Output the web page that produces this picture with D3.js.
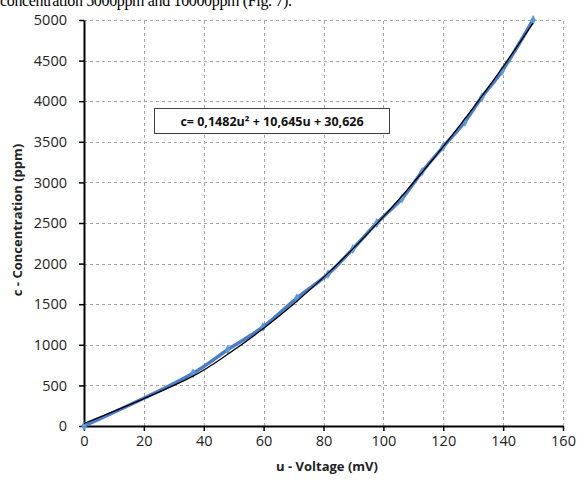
<!DOCTYPE html>
<html>
<head>
<meta charset="utf-8">
<script src="https://cdn.jsdelivr.net/npm/d3@7"></script>
<style>
  body { margin: 0; background: #fff; }
  svg { display: block; }
</style>
</head>
<body>
<div id="chart"></div>
<script>
const voltage = [0, 36.4, 48, 59.8, 71.1, 81.5, 89.8, 97.8, 106.2, 112.9, 119.9, 127.2, 132.9, 139.6, 150];
const concentration = [0, 650, 940, 1220, 1575, 1870, 2180, 2500, 2800, 3130, 3435, 3745, 4050, 4370, 5000];

// polynomial trendline c = a*u^2 + b*u + k, as printed in the chart
const trendCoef = [0.1482, 10.645, 30.626];
const trendLabel = 'c= 0,1482u² + 10,645u + 30,626';

const xTicks = [0, 20, 40, 60, 80, 100, 120, 140, 160];
const yTicks = [0, 500, 1000, 1500, 2000, 2500, 3000, 3500, 4000, 4500, 5000];

const width = 578, height = 482;
const margin = {left: 84, right: 15, top: 20, bottom: 56};

const svg = d3.select('#chart').append('svg')
    .attr('width', width)
    .attr('height', height);

// caption line from the page above, cut off by the crop
svg.append('text')
    .attr('x', 0)
    .attr('y', 6)
    .attr('font-family', 'Liberation Serif, serif')
    .attr('font-size', 16)
    .attr('textLength', 292)
    .attr('fill', '#000')
    .text('concentration 5000ppm and 10000ppm (Fig. 7).');

const x = d3.scaleLinear().domain([0, 160]).range([margin.left, width - margin.right]);
const y = d3.scaleLinear().domain([0, 5000]).range([height - margin.bottom, margin.top]);

// grid
const grid = svg.append('g')
    .attr('stroke', '#a6a6a6')
    .attr('stroke-width', 1)
    .attr('stroke-dasharray', '3,3');

grid.selectAll('.vg')
    .data(xTicks.filter(d => d > 0))
    .enter().append('line')
    .attr('x1', d => Math.round(x(d)) + 0.5)
    .attr('x2', d => Math.round(x(d)) + 0.5)
    .attr('y1', y(0))
    .attr('y2', y(5000));

grid.selectAll('.hg')
    .data(yTicks.filter(d => d > 0))
    .enter().append('line')
    .attr('x1', x(0))
    .attr('x2', x(160))
    .attr('y1', d => Math.round(y(d)) + 0.5)
    .attr('y2', d => Math.round(y(d)) + 0.5);

// axes
const xAxis = svg.append('g')
    .attr('transform', `translate(0,${y(0)})`)
    .call(d3.axisBottom(x).tickValues(xTicks).tickFormat(d3.format('d'))
        .tickSize(5).tickSizeOuter(0).tickPadding(5));

const yAxis = svg.append('g')
    .attr('transform', `translate(${x(0)},0)`)
    .call(d3.axisLeft(y).tickValues(yTicks).tickFormat(d3.format('d'))
        .tickSize(5).tickSizeOuter(0).tickPadding(12));

[xAxis, yAxis].forEach(ax => {
    ax.select('.domain').attr('stroke', '#000').attr('stroke-width', 2);
    ax.selectAll('.tick line').attr('stroke', '#000').attr('stroke-width', 1.5);
    ax.selectAll('.tick text')
        .attr('font-family', 'Open Sans, sans-serif')
        .attr('font-size', 14.5)
        .attr('fill', '#222');
});

// axis titles
svg.append('text')
    .attr('x', 327)
    .attr('y', 471)
    .attr('text-anchor', 'middle')
    .attr('font-family', 'Open Sans, sans-serif')
    .attr('font-weight', 'bold')
    .attr('font-size', 13)
    .attr('fill', '#222')
    .text('u - Voltage (mV)');

svg.append('text')
    .attr('transform', 'translate(22,220) rotate(-90)')
    .attr('text-anchor', 'middle')
    .attr('font-family', 'Open Sans, sans-serif')
    .attr('font-weight', 'bold')
    .attr('font-size', 13)
    .attr('fill', '#222')
    .text('c - Concentration (ppm)');

// data series
const points = voltage.map((u, i) => ({u: u, c: concentration[i]}));

svg.append('path')
    .datum(points)
    .attr('fill', 'none')
    .attr('stroke', '#4a7ccc')
    .attr('stroke-width', 3.5)
    .attr('stroke-linejoin', 'round')
    .attr('d', d3.line().x(d => x(d.u)).y(d => y(d.c)).curve(d3.curveCatmullRom));

svg.append('g').selectAll('path')
    .data(points)
    .enter().append('path')
    .attr('transform', d => `translate(${x(d.u)},${y(d.c)})`)
    .attr('d', d3.symbol().type(d3.symbolDiamond).size(28))
    .attr('fill', '#5b9bd5');

// trendline
const trend = u => trendCoef[0] * u * u + trendCoef[1] * u + trendCoef[2];
const trendPts = voltage.map(u => ({u: u, c: trend(u)}));

svg.append('path')
    .datum(trendPts)
    .attr('fill', 'none')
    .attr('stroke', '#000')
    .attr('stroke-width', 1.3)
    .attr('d', d3.line().x(d => x(d.u)).y(d => y(d.c)).curve(d3.curveCatmullRom));

// equation label
svg.append('rect')
    .attr('x', 154.5)
    .attr('y', 108.5)
    .attr('width', 235)
    .attr('height', 25)
    .attr('fill', '#fff')
    .attr('stroke', '#404040')
    .attr('stroke-width', 1);

svg.append('text')
    .attr('x', 272)
    .attr('y', 126)
    .attr('text-anchor', 'middle')
    .attr('font-family', 'Open Sans, sans-serif')
    .attr('font-weight', 'bold')
    .attr('font-size', 12.5)
    .attr('fill', '#111')
    .text(trendLabel);
</script>
</body>
</html>
